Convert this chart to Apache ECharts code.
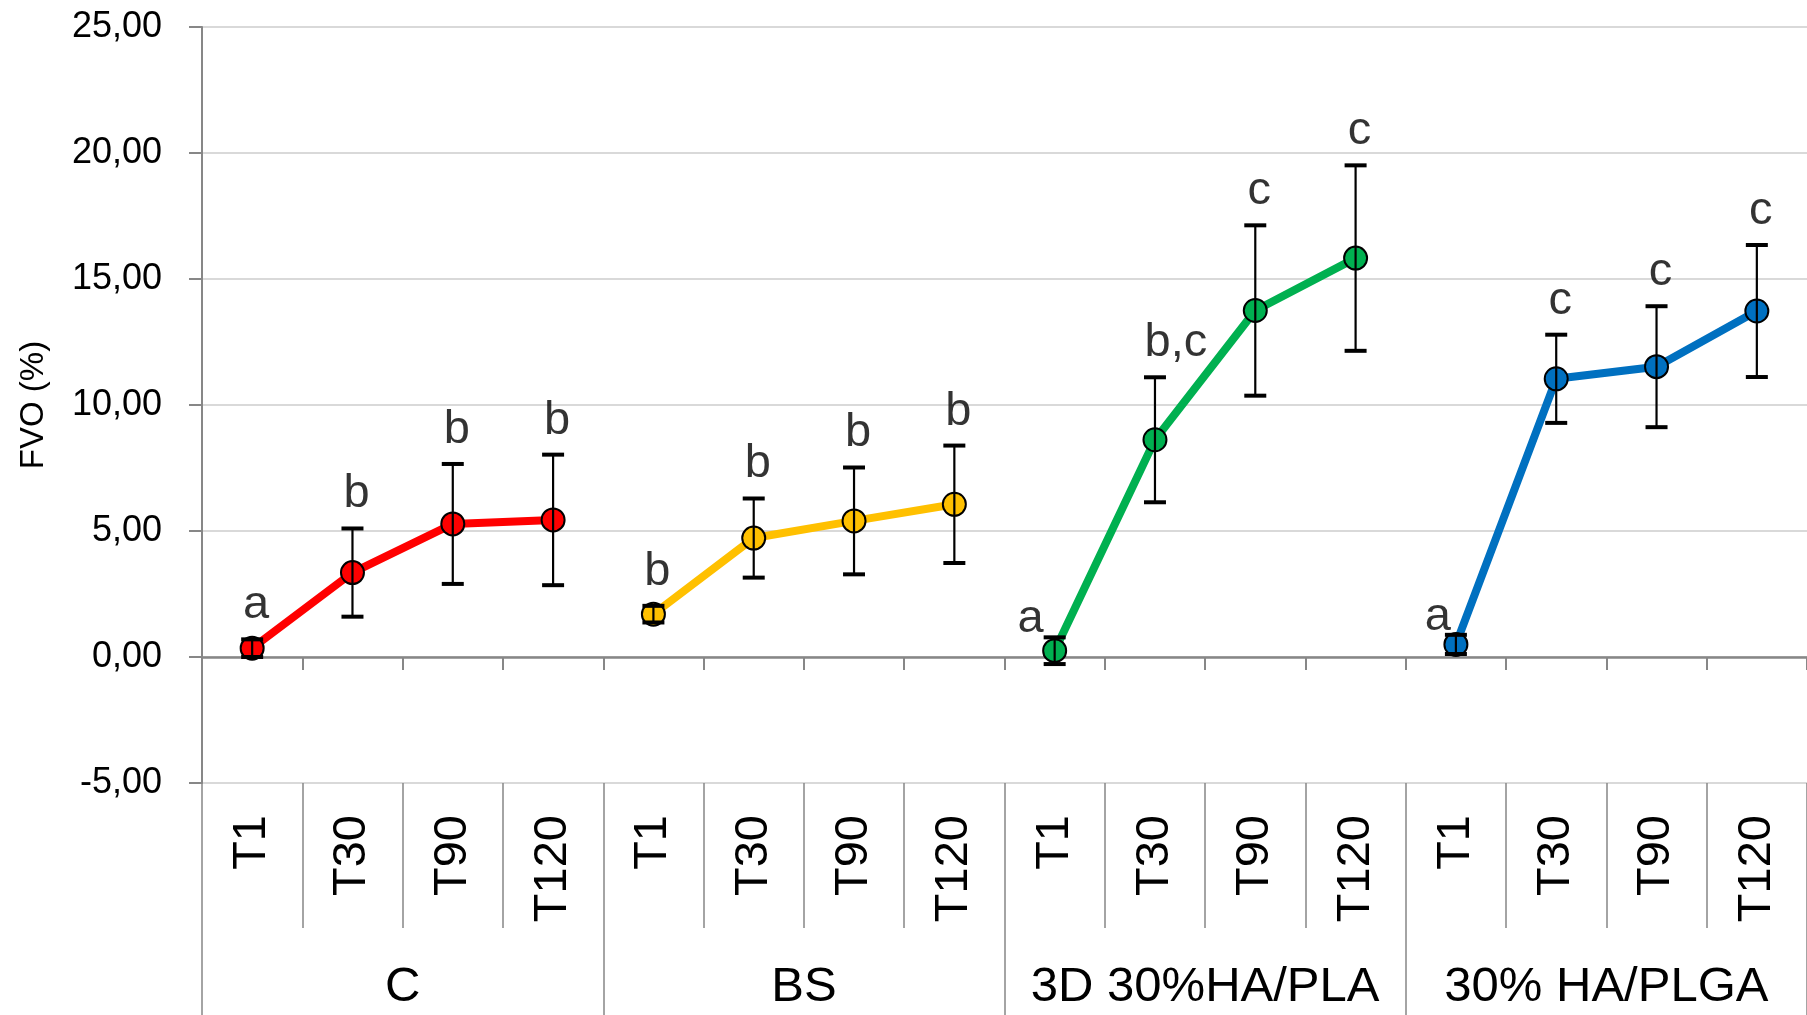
<!DOCTYPE html>
<html>
<head>
<meta charset="utf-8">
<script src="https://cdn.jsdelivr.net/npm/echarts@6/dist/echarts.min.js"></script>
<style>
  html, body { margin: 0; padding: 0; background: #fff; }
  #chart { width: 1807px; height: 1015px; }
</style>
</head>
<body>
<div id="chart"></div>
<script>
// time points and groups (two-level category axis)
var timePoints = ['T1', 'T30', 'T90', 'T120'];
var groupNames = ['C', 'BS', '3D 30%HA/PLA', '30% HA/PLGA'];

// mean FVO (%) and SD for each group
var fvoC = [0.35, 3.35, 5.28, 5.44];
var sdC = [0.35, 1.75, 2.38, 2.59];
var lettersC = ['a', 'b', 'b', 'b'];

var fvoBS = [1.70, 4.72, 5.40, 6.06];
var sdBS = [0.33, 1.57, 2.12, 2.33];
var lettersBS = ['b', 'b', 'b', 'b'];

var fvo3D = [0.25, 8.62, 13.75, 15.83];
var sd3D = [0.53, 2.48, 3.38, 3.68];
var letters3D = ['a', 'b,c', 'c', 'c'];

var fvoPLGA = [0.50, 11.04, 11.52, 13.73];
var sdPLGA = [0.38, 1.75, 2.40, 2.62];
var lettersPLGA = ['a', 'c', 'c', 'c'];

var groupColors = ['#FF0000', '#FFC000', '#00B050', '#0070C0'];
var font = "'Liberation Sans', Arial, sans-serif";
var axisGray = '#878787';

var means = [fvoC, fvoBS, fvo3D, fvoPLGA];
var sds = [sdC, sdBS, sd3D, sdPLGA];
var letters = [lettersC, lettersBS, letters3D, lettersPLGA];

var categories = [];
groupNames.forEach(function () {
    timePoints.forEach(function (t) { categories.push(t); });
});

var series = [];
var errData = [];
var letterData = [];

means.forEach(function (arr, g) {
    var data = categories.map(function () { return null; });
    arr.forEach(function (v, t) {
        var idx = g * timePoints.length + t;
        data[idx] = v;
        errData.push([idx, v - sds[g][t], v + sds[g][t]]);
        var item = { value: [idx, v + sds[g][t], letters[g][t]] };
        if (t === 0 && g >= 2) {
            item.label = { offset: [g === 3 ? -18 : -24, 16] };
        } else if (letters[g][t].length > 1) {
            item.label = { offset: [21, 0] };
        }
        letterData.push(item);
    });
    series.push({
        name: groupNames[g],
        type: 'line',
        data: data,
        connectNulls: false,
        symbol: 'circle',
        symbolSize: 23,
        lineStyle: { color: groupColors[g], width: 8 },
        itemStyle: { color: groupColors[g], borderColor: '#000', borderWidth: 2 },
        z: 2
    });
});

series.push({
    type: 'custom',
    name: 'sd',
    data: errData,
    encode: { x: 0, y: [1, 2] },
    z: 5,
    silent: true,
    renderItem: function (params, api) {
        var x = api.value(0);
        var lo = api.coord([x, api.value(1)]);
        var hi = api.coord([x, api.value(2)]);
        var w = 11;
        var cap = { stroke: '#000', lineWidth: 4 };
        return {
            type: 'group',
            children: [
                { type: 'line', shape: { x1: lo[0], y1: lo[1], x2: hi[0], y2: hi[1] }, style: { stroke: '#000', lineWidth: 2.2 } },
                { type: 'line', shape: { x1: hi[0] - w, y1: hi[1], x2: hi[0] + w, y2: hi[1] }, style: cap },
                { type: 'line', shape: { x1: lo[0] - w, y1: lo[1], x2: lo[0] + w, y2: lo[1] }, style: cap }
            ]
        };
    }
});

series.push({
    type: 'scatter',
    name: 'letters',
    data: letterData,
    symbolSize: 1,
    itemStyle: { color: 'rgba(0,0,0,0)' },
    silent: true,
    z: 6,
    label: {
        show: true,
        position: 'top',
        distance: 10,
        offset: [4, 0],
        formatter: function (p) { return p.value[2]; },
        color: '#000',
        fontSize: 47,
        fontFamily: font
    }
});

var option = {
    animation: false,
    backgroundColor: '#fff',
    grid: { left: 202, right: 0, top: 27, bottom: 232, containLabel: false, outerBoundsMode: 'none' },
    xAxis: [
        {
            type: 'category',
            data: categories,
            axisLine: { onZero: true, lineStyle: { color: axisGray, width: 2.5 } },
            axisTick: { show: true, interval: 0, length: 13, lineStyle: { color: axisGray, width: 2 } },
            axisLabel: { show: false },
            splitLine: { show: false }
        },
        {
            type: 'category',
            data: categories,
            position: 'bottom',
            axisLine: { show: false, onZero: false },
            axisTick: { show: true, interval: 0, length: 145, lineStyle: { color: axisGray, width: 1.5 } },
            axisLabel: {
                interval: 0, rotate: 90, margin: 32,
                fontSize: 47, color: '#000', fontFamily: font
            },
            splitLine: { show: false }
        },
        {
            type: 'category',
            data: groupNames,
            position: 'bottom',
            axisLine: { show: false, onZero: false },
            axisTick: { show: true, interval: 0, length: 232, lineStyle: { color: axisGray, width: 1.5 } },
            axisLabel: {
                interval: 0, margin: 180,
                fontSize: 49, color: '#000', fontFamily: font
            },
            splitLine: { show: false }
        }
    ],
    yAxis: {
        type: 'value',
        min: -5,
        max: 25,
        interval: 5,
        name: 'FVO (%)',
        nameLocation: 'middle',
        nameGap: 152,
        nameTextStyle: { fontSize: 33, color: '#000', fontFamily: font },
        axisLine: { show: true, lineStyle: { color: axisGray, width: 2 } },
        axisTick: { show: true, length: 13, lineStyle: { color: axisGray, width: 2 } },
        axisLabel: {
            margin: 40, fontSize: 36, color: '#000', fontFamily: font,
            formatter: function (v) { return v.toFixed(2).replace('.', ','); }
        },
        splitLine: { lineStyle: { color: '#d9d9d9', width: 2 } }
    },
    series: series
};

var chart = echarts.init(document.getElementById('chart'));
chart.setOption(option);
</script>
</body>
</html>
